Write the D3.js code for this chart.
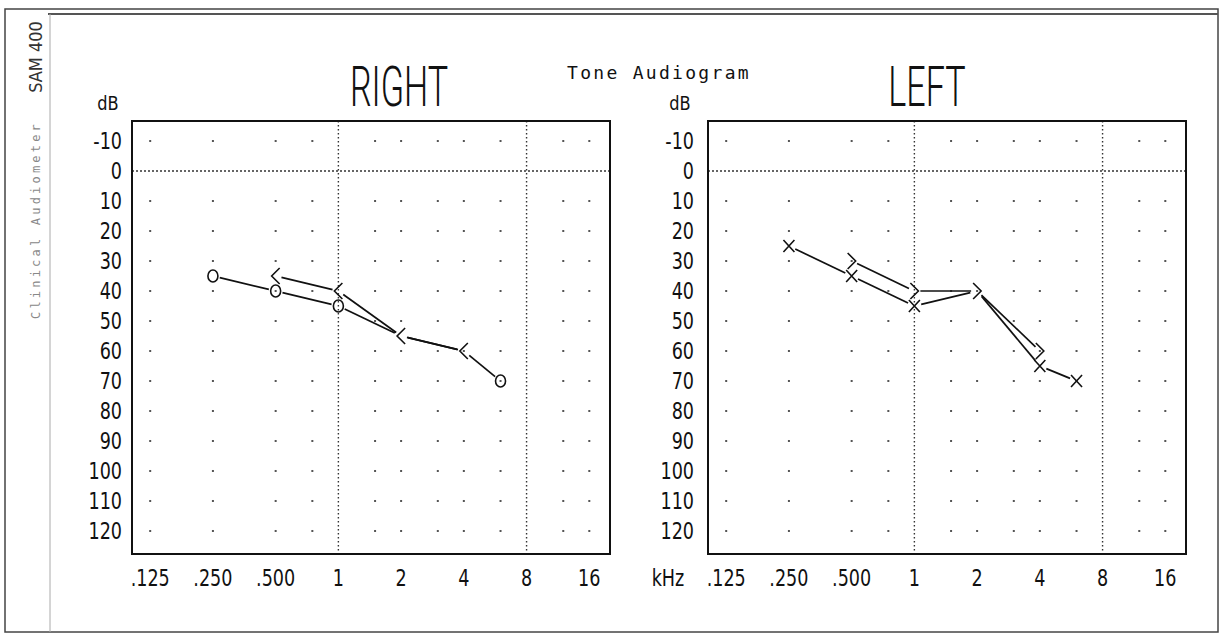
<!DOCTYPE html>
<html>
<head>
<meta charset="utf-8">
<script src="https://cdn.jsdelivr.net/npm/d3@7"></script>
<style>
  html, body { margin: 0; padding: 0; background: #fff; }
  svg { display: block; }
</style>
</head>
<body>
<svg id="chart" width="1228" height="635"></svg>
<script>
// ---------------- data ----------------
const freqTicks = [0.125, 0.25, 0.5, 1, 2, 4, 8, 16];
const freqTickLabels = [".125", ".250", ".500", "1", "2", "4", "8", "16"];
const gridFreqs = [0.125, 0.25, 0.5, 0.75, 1.5, 2, 3, 4, 6, 12, 16];
const dottedFreqs = [1, 8];
const dbTicks = [-10, 0, 10, 20, 30, 40, 50, 60, 70, 80, 90, 100, 110, 120];
const gridDb = [-10, 10, 20, 30, 40, 50, 60, 70, 80, 90, 100, 110, 120];

const rightAirFreq = [0.25, 0.5, 1, 2, 4, 6];
const rightAirDb   = [35, 40, 45, 55, 60, 70];
const rightBoneFreq = [0.5, 1, 2, 4];
const rightBoneDb   = [35, 40, 55, 60];

const leftAirFreq = [0.25, 0.5, 1, 2, 4, 6];
const leftAirDb   = [25, 35, 45, 40, 65, 70];
const leftBoneFreq = [0.5, 1, 2, 4];
const leftBoneDb   = [30, 40, 40, 60];

const panelTitles = ["RIGHT", "LEFT"];
const mainTitle = "Tone Audiogram";

// ---------------- layout ----------------
const svg = d3.select("#chart");
const plotTop = 121, plotBottom = 554;
const panels = [
  { title: panelTitles[0], x0: 132, x1: 610, gap: 10, titleX: 399, dbX: 108, kHz: false,
    air: { f: rightAirFreq, d: rightAirDb, sym: "O" }, bone: { f: rightBoneFreq, d: rightBoneDb, sym: "<" } },
  { title: panelTitles[1], x0: 708, x1: 1186, gap: 14, titleX: 927, dbX: 680, kHz: true,
    air: { f: leftAirFreq, d: leftAirDb, sym: "X" }, bone: { f: leftBoneFreq, d: leftBoneDb, sym: ">" } }
];

const ink = "#111";
const labelFont = "'DejaVu Sans Condensed', 'DejaVu Sans', sans-serif";

function stext(g, x, y, str, o) {
  o = o || {};
  return g.append("text")
    .attr("transform", `translate(${x},${y}) scale(${o.sx || 1},1)`)
    .attr("text-anchor", o.anchor || "middle")
    .attr("font-family", o.family || labelFont)
    .attr("font-size", o.size || 23)
    .attr("font-weight", o.weight || "normal")
    .attr("letter-spacing", o.ls || 0)
    .attr("fill", o.fill || ink)
    .text(str);
}

// frames
svg.append("rect").attr("x", 5).attr("y", 9).attr("width", 1213).attr("height", 623)
  .attr("fill", "none").attr("stroke", "#444").attr("stroke-width", 1.5);
svg.append("line").attr("x1", 48).attr("x2", 1218).attr("y1", 14).attr("y2", 14)
  .attr("stroke", "#555").attr("stroke-width", 2);
svg.append("line").attr("x1", 50).attr("x2", 50).attr("y1", 14).attr("y2", 632)
  .attr("stroke", "#aaa").attr("stroke-width", 1);

// side texts
svg.append("text")
  .attr("transform", "translate(42,57) rotate(-90)")
  .attr("text-anchor", "middle").attr("font-family", labelFont)
  .attr("font-size", 18).attr("fill", "#333").text("SAM 400");
svg.append("text")
  .attr("transform", "translate(40,220) rotate(-90)")
  .attr("text-anchor", "middle").attr("font-family", "'DejaVu Sans Mono', monospace")
  .attr("font-size", 12).attr("letter-spacing", 3.2).attr("fill", "#888").text("Clinical Audiometer");

// main title
svg.append("text").attr("x", 567).attr("y", 79)
  .attr("font-family", "'DejaVu Sans Mono', monospace").attr("font-size", 18)
  .attr("letter-spacing", 2.3).attr("fill", ink).text(mainTitle);

const fLog = f => Math.log2(f);

panels.forEach(p => {
  const g = svg.append("g");
  const x = d3.scaleLinear().domain([fLog(0.125) - 0.29, fLog(16) + 0.33]).range([p.x0, p.x1]);
  const xf = f => x(fLog(f));
  const y = d3.scaleLinear().domain([-16.67, 127.67]).range([plotTop, plotBottom]);

  // grid dots
  gridFreqs.forEach(f => {
    gridDb.forEach(d => {
      g.append("rect").attr("x", xf(f) - 1).attr("y", y(d) - 1)
        .attr("width", 2).attr("height", 2).attr("fill", "#555");
    });
  });
  // dotted verticals
  dottedFreqs.forEach(f => {
    g.append("line").attr("x1", xf(f)).attr("x2", xf(f)).attr("y1", plotTop).attr("y2", plotBottom)
      .attr("stroke", "#333").attr("stroke-width", 1.4).attr("stroke-dasharray", "1.5,2.5");
  });
  // 0 dB dotted line
  g.append("line").attr("x1", p.x0).attr("x2", p.x1).attr("y1", y(0)).attr("y2", y(0))
    .attr("stroke", "#333").attr("stroke-width", 1.4).attr("stroke-dasharray", "2,2");

  // frame
  g.append("rect").attr("x", p.x0).attr("y", plotTop).attr("width", p.x1 - p.x0).attr("height", plotBottom - plotTop)
    .attr("fill", "none").attr("stroke", ink).attr("stroke-width", 2);

  // y labels
  dbTicks.forEach(d => {
    stext(g, p.x0 - p.gap, y(d) + 8, String(d), { anchor: "end", sx: 0.85 });
  });
  // x labels
  freqTicks.forEach((f, i) => {
    stext(g, xf(f), 586, freqTickLabels[i], { sx: 0.85 });
  });
  if (p.kHz) stext(g, 668, 586, "kHz", { sx: 0.85 });
  stext(g, p.dbX, 110, "dB", { size: 20, sx: 0.9 });

  // panel title
  g.append("text")
    .attr("font-family", "Roboto, 'DejaVu Sans', sans-serif").attr("font-weight", 300)
    .attr("font-size", 56).attr("fill", ink).attr("text-anchor", "middle").text(p.title)
    .attr("transform", `translate(${p.titleX},106) scale(0.61,1)`);

  // series lines (trimmed at symbols)
  const boneKey = new Set(p.bone.f.map((f, i) => f + ":" + p.bone.d[i]));
  function series(s, trim, skipKeys) {
    const pts = s.f.map((f, i) => [xf(f), y(s.d[i]), f + ":" + s.d[i]]);
    for (let i = 0; i < pts.length - 1; i++) {
      const [ax, ay] = pts[i], [bx, by] = pts[i + 1];
      const len = Math.hypot(bx - ax, by - ay);
      const ux = (bx - ax) / len, uy = (by - ay) / len;
      g.append("line")
        .attr("x1", ax + ux * trim).attr("y1", ay + uy * trim)
        .attr("x2", bx - ux * trim).attr("y2", by - uy * trim)
        .attr("stroke", ink).attr("stroke-width", 1.7);
    }
    pts.forEach(([px, py, key]) => {
      if (skipKeys && skipKeys.has(key)) return; // symbol hidden under bone marker
      if (s.sym === "O") {
        g.append("ellipse").attr("cx", px).attr("cy", py).attr("rx", 5).attr("ry", 6)
          .attr("fill", "none").attr("stroke", ink).attr("stroke-width", 1.6);
      } else if (s.sym === "X") {
        g.append("path").attr("d", `M${px - 5.5},${py - 6}L${px + 5.5},${py + 6}M${px + 5.5},${py - 6}L${px - 5.5},${py + 6}`)
          .attr("stroke", ink).attr("stroke-width", 1.6).attr("fill", "none");
      } else if (s.sym === "<") {
        g.append("path").attr("d", `M${px + 4},${py - 8}L${px - 4},${py}L${px + 4},${py + 8}`)
          .attr("stroke", ink).attr("stroke-width", 1.6).attr("fill", "none");
      } else if (s.sym === ">") {
        g.append("path").attr("d", `M${px - 4},${py - 8}L${px + 4},${py}L${px - 4},${py + 8}`)
          .attr("stroke", ink).attr("stroke-width", 1.6).attr("fill", "none");
      }
    });
  }
  series(p.bone, 6, null);
  series(p.air, 7, boneKey);
});
</script>
</body>
</html>
